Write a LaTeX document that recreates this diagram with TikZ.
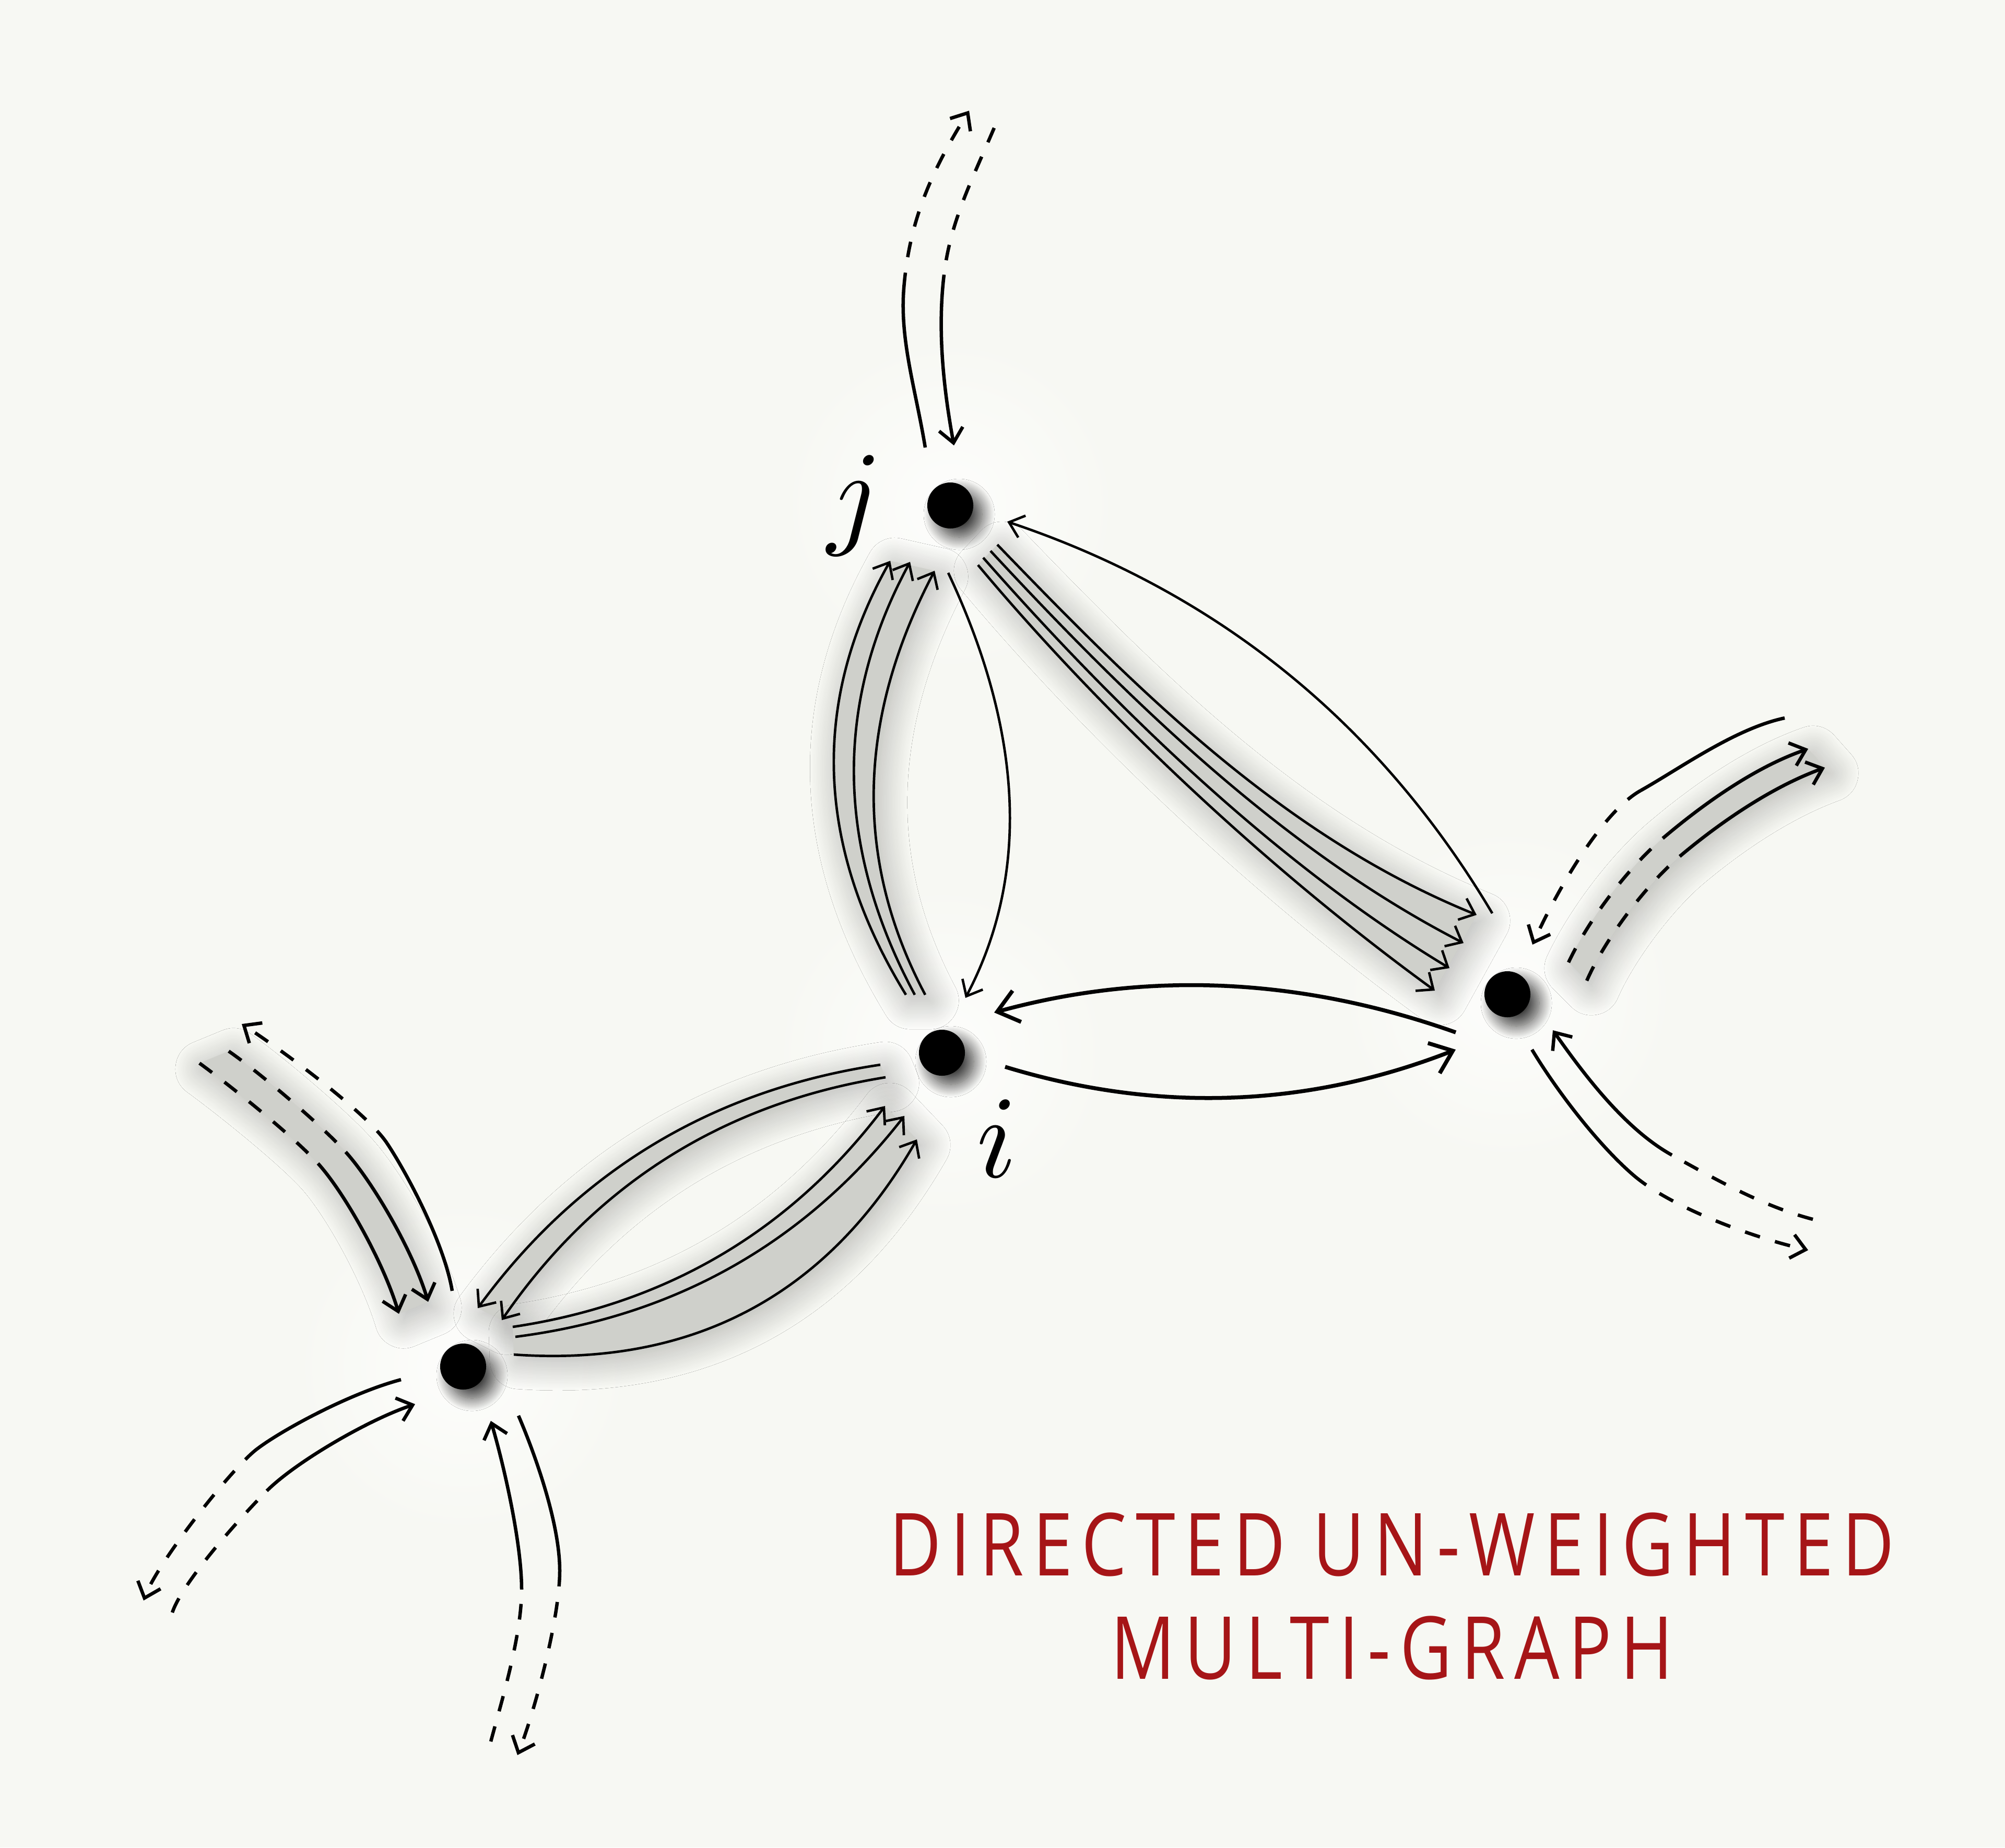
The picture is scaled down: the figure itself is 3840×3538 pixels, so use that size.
\documentclass[tikz,border=0pt]{standalone}
\usepackage{fontspec}
\usepackage{graphicx}
\newfontfamily\titlefont[FakeStretch=0.82,LetterSpace=10.5]{Open Sans}
\usetikzlibrary{arrows.meta,shadows.blur}
\definecolor{bgc}{RGB}{247,248,243}
\definecolor{bandc}{RGB}{207,208,203}
\definecolor{titlered}{RGB}{166,21,23}
\begin{document}
\begin{tikzpicture}[x=0.01cm,y=-0.01cm,
  vertex/.style={circle,fill=black,inner sep=0pt,minimum size=0.88cm,
    blur shadow={shadow xshift=0.17cm,shadow yshift=-0.17cm,shadow blur radius=0.24cm,shadow blur steps=25,shadow opacity=75}},
  halo/.style={inner color=white!75!bgc,outer color=bgc},
  thinarr/.style={line width=0.047cm,-{Straight Barb[length=0.26cm,width=0.44cm,line join=miter,line cap=butt]}},
  thickarr/.style={line width=0.075cm,-{Straight Barb[length=0.39cm,width=0.62cm,line join=miter,line cap=butt]}},
  stubline/.style={line width=0.065cm},
  stubdash/.style={line width=0.065cm,dash pattern=on 0.3cm off 0.3cm},
  stubtip/.style={-{Straight Barb[length=0.27cm,width=0.46cm,line join=miter,line cap=butt]}},
  bandfill/.style={fill=bandc,draw=none,
    blur shadow={shadow xshift=0.09cm,shadow yshift=-0.11cm,shadow blur radius=0.55cm,shadow blur steps=45,shadow opacity=30}},
  lbl/.style={inner sep=0pt},
  titletext/.style={inner sep=0pt,anchor=base,text=titlered,font=\titlefont\fontsize{47.4}{56}\selectfont}
]
\useasboundingbox (0,0) rectangle (3840,3538);
\fill[bgc] (0,0) rectangle (3840,3538);

% node positions and halos
\coordinate (Jp) at (1820,968);
\coordinate (Ip) at (1804,2016);
\coordinate (Kp) at (2887,1904);
\coordinate (Lp) at (887,2617);
\foreach \p in {Jp,Ip,Kp,Lp} \shade[halo] (\p) circle[radius=3.2cm];

% vertices
\node[vertex] (J) at (Jp) {};
\node[vertex] (I) at (Ip) {};
\node[vertex] (K) at (Kp) {};
\node[vertex] (L) at (Lp) {};

% labels
\node[lbl] (jlab) at ([shift={(-183,0)}]J.center) {\scalebox{6.4}{$j$}};
\node[lbl] (ilab) at ([shift={(105,164)}]I.center) {\scalebox{6.4}{$i$}};

% ---- edge end points (relative to the vertices)
\coordinate (ji-s) at ([shift={(-4,129)}]J.center);
\coordinate (ji-e) at ([shift={(45,-105)}]I.center);
\coordinate (ij1-s) at ([shift={(-69,-111)}]I.center);
\coordinate (ij1-e) at ([shift={(-115,106)}]J.center);
\coordinate (ij2-s) at ([shift={(-52,-111)}]I.center);
\coordinate (ij2-e) at ([shift={(-77,108)}]J.center);
\coordinate (ij3-s) at ([shift={(-32,-111)}]I.center);
\coordinate (ij3-e) at ([shift={(-30,125)}]J.center);
\coordinate (jk1-s) at ([shift={(90,75)}]J.center);
\coordinate (jk1-e) at ([shift={(-59,-152)}]K.center);
\coordinate (jk2-s) at ([shift={(77,87)}]J.center);
\coordinate (jk2-e) at ([shift={(-84,-98)}]K.center);
\coordinate (jk3-s) at ([shift={(63,100)}]J.center);
\coordinate (jk3-e) at ([shift={(-111,-50)}]K.center);
\coordinate (jk4-s) at ([shift={(53,114)}]J.center);
\coordinate (jk4-e) at ([shift={(-139,-7)}]K.center);
\coordinate (kj-s) at ([shift={(-29,-155)}]K.center);
\coordinate (kj-e) at ([shift={(109,31)}]J.center);
\coordinate (ki-s) at ([shift={(-99,73)}]K.center);
\coordinate (ki-e) at ([shift={(100,-77)}]I.center);
\coordinate (ik-s) at ([shift={(121,27)}]I.center);
\coordinate (ik-e) at ([shift={(-99,106)}]K.center);
\coordinate (il1-s) at ([shift={(-118,23)}]I.center);
\coordinate (il1-e) at ([shift={(28,-112)}]L.center);
\coordinate (il2-s) at ([shift={(-108,47)}]I.center);
\coordinate (il2-e) at ([shift={(74,-89)}]L.center);
\coordinate (li1-s) at ([shift={(95,-76)}]L.center);
\coordinate (li1-e) at ([shift={(-109,102)}]I.center);
\coordinate (li2-s) at ([shift={(100,-57)}]L.center);
\coordinate (li2-e) at ([shift={(-72,121)}]I.center);
\coordinate (li3-s) at ([shift={(97,-23)}]L.center);
\coordinate (li3-e) at ([shift={(-48,166)}]I.center);

% ---- stub end points
\coordinate (jf-a) at ([shift={(-48,-111)}]J.center);
\coordinate (jf-m) at (1731,552);
\coordinate (jf-t) at (1856,212);
\coordinate (jg-f) at (1904,245);
\coordinate (jg-m) at (1808,526);
\coordinate (jg-t) at ([shift={(7,-115)}]J.center);
\coordinate (ka-f) at (3418,1375);
\coordinate (ka-m) at (3142,1514);
\coordinate (ka-t) at ([shift={(48,-95)}]K.center);
\coordinate (kb-a) at ([shift={(117,-61)}]K.center);
\coordinate (kb-m) at (3185,1605);
\coordinate (kb-t) at (3463,1434);
\coordinate (kc-a) at ([shift={(152,-26)}]K.center);
\coordinate (kc-m) at (3217,1640);
\coordinate (kc-t) at (3495,1470);
\coordinate (kd-f) at (3472,2335);
\coordinate (kd-m) at (3202,2212);
\coordinate (kd-t) at ([shift={(87,69)}]K.center);
\coordinate (ke-a) at ([shift={(47,106)}]K.center);
\coordinate (ke-m) at (3129,2251);
\coordinate (ke-t) at (3463,2394);
\coordinate (lh-a) at ([shift={(-21,-145)}]L.center);
\coordinate (lh-m) at (741,2189);
\coordinate (lh-t) at (463,1961);
\coordinate (li-f) at (438,2013);
\coordinate (li-m) at (662,2206);
\coordinate (li-t) at ([shift={(-67,-124)}]L.center);
\coordinate (lj-f) at (382,2036);
\coordinate (lj-m) at (609,2228);
\coordinate (lj-t) at ([shift={(-123,-101)}]L.center);
\coordinate (lk-a) at ([shift={(-119,25)}]L.center);
\coordinate (lk-m) at (492,2775);
\coordinate (lk-t) at (275,3065);
\coordinate (ll-f) at (330,3088);
\coordinate (ll-m) at (511,2855);
\coordinate (ll-t) at ([shift={(-92,72)}]L.center);
\coordinate (lm-f) at (940,3335);
\coordinate (lm-m) at (999,3044);
\coordinate (lm-t) at ([shift={(53,104)}]L.center);
\coordinate (ln-a) at ([shift={(106,94)}]L.center);
\coordinate (ln-m) at (1072,3008);
\coordinate (ln-t) at (991,3361);

% ---- shaded bands under multi-edges
\fill[bandfill] (jk1-s) .. controls +(270,280) and +(-370,-150) .. (jk1-e)
   -- (jk4-e) .. controls +(-330,-240) and +(230,275) .. (jk4-s) -- cycle;
\fill[bandfill] (ij1-s) .. controls +(-173,-282) and +(-153,272) .. (ij1-e)
   -- (ij3-e) .. controls +(-149,284) and +(-137,-258) .. (ij3-s) -- cycle;
\fill[bandfill] (il1-s) .. controls +(-322,48) and +(192,-262) .. (il1-e)
   -- (il2-e) .. controls +(179,-260) and +(-311,50) .. (il2-s) -- cycle;
\fill[bandfill] (li1-s) .. controls +(296,-44) and +(-180,238) .. (li1-e)
   -- (li3-e) .. controls +(-171,298) and +(343,24) .. (li3-s) -- cycle;
\fill[bandfill] (kb-a) .. controls +(40,-85) and +(-65,55) .. (kb-m)
   .. controls +(65,-55) and +(-110,38) .. (kb-t)
   -- (kc-t) .. controls +(-110,40) and +(65,-55) .. (kc-m)
   .. controls +(-65,55) and +(35,-80) .. (kc-a) -- cycle;
\fill[bandfill] (li-f) .. controls +(55,38) and +(-50,-55) .. (li-m)
   .. controls +(50,55) and +(-30,-100) .. (li-t)
   -- (lj-t) .. controls +(-30,-100) and +(50,55) .. (lj-m)
   .. controls +(-50,-55) and +(55,40) .. (lj-f) -- cycle;

% ---- edges between the four vertices
\draw[thinarr] (ji-s) .. controls +(145,308) and +(123,-234) .. (ji-e);
\draw[thinarr] (ij1-s) .. controls +(-173,-282) and +(-153,272) .. (ij1-e);
\draw[thinarr] (ij2-s) .. controls +(-152,-282) and +(-146,270) .. (ij2-e);
\draw[thinarr] (ij3-s) .. controls +(-137,-258) and +(-149,284) .. (ij3-e);
\draw[thinarr] (jk1-s) .. controls +(270,280) and +(-370,-150) .. (jk1-e);
\draw[thinarr] (jk2-s) .. controls +(260,280) and +(-350,-180) .. (jk2-e);
\draw[thinarr] (jk3-s) .. controls +(245,278) and +(-340,-205) .. (jk3-e);
\draw[thinarr] (jk4-s) .. controls +(230,275) and +(-330,-240) .. (jk4-e);
\draw[thinarr] (kj-s) .. controls +(-217,-365) and +(403,135) .. (kj-e);
\draw[thickarr] (ki-s) .. controls +(-299,-106) and +(291,-80) .. (ki-e);
\draw[thickarr] (ik-s) .. controls +(292,89) and +(-284,111) .. (ik-e);
\draw[thinarr] (il1-s) .. controls +(-322,48) and +(192,-262) .. (il1-e);
\draw[thinarr] (il2-s) .. controls +(-311,50) and +(179,-260) .. (il2-e);
\draw[thinarr] (li1-s) .. controls +(296,-44) and +(-180,238) .. (li1-e);
\draw[thinarr] (li2-s) .. controls +(306,-39) and +(-190,243) .. (li2-e);
\draw[thinarr] (li3-s) .. controls +(343,24) and +(-171,298) .. (li3-e);

% ---- stubs to vertices outside the picture
% at j
\draw[stubline] (jf-a) .. controls +(-18,-110) and +(-8,100) .. (jf-m);
\draw[stubdash,stubtip] (jf-m) .. controls +(10,-125) and +(-75,120) .. (jf-t);
\draw[stubdash] (jg-f) .. controls +(-45,105) and +(12,-100) .. (jg-m);
\draw[stubline,stubtip] (jg-m) .. controls +(-12,100) and +(-22,-120) .. (jg-t);
% at k
\draw[stubline] (ka-f) .. controls +(-95,20) and +(75,-42) .. (ka-m);
\draw[stubdash,stubtip] (ka-m) .. controls +(-75,42) and +(45,-100) .. (ka-t);
\draw[stubdash] (kb-a) .. controls +(40,-85) and +(-65,55) .. (kb-m);
\draw[stubline,stubtip] (kb-m) .. controls +(65,-55) and +(-110,38) .. (kb-t);
\draw[stubdash] (kc-a) .. controls +(35,-80) and +(-65,55) .. (kc-m);
\draw[stubline,stubtip] (kc-m) .. controls +(65,-55) and +(-110,40) .. (kc-t);
\draw[stubdash] (kd-f) .. controls +(-95,-25) and +(90,50) .. (kd-m);
\draw[stubline,stubtip] (kd-m) .. controls +(-90,-50) and +(60,85) .. (kd-t);
\draw[stubline] (ke-a) .. controls +(45,75) and +(-70,-60) .. (ke-m);
\draw[stubdash,stubtip] (ke-m) .. controls +(70,60) and +(-110,-25) .. (ke-t);
% at the lower left vertex
\draw[stubline] (lh-a) .. controls +(-15,-90) and +(40,60) .. (lh-m);
\draw[stubdash,stubtip] (lh-m) .. controls +(-40,-60) and +(70,45) .. (lh-t);
\draw[stubdash] (li-f) .. controls +(55,38) and +(-50,-55) .. (li-m);
\draw[stubline,stubtip] (li-m) .. controls +(50,55) and +(-30,-100) .. (li-t);
\draw[stubdash] (lj-f) .. controls +(55,40) and +(-50,-55) .. (lj-m);
\draw[stubline,stubtip] (lj-m) .. controls +(50,55) and +(-30,-100) .. (lj-t);
\draw[stubline] (lk-a) .. controls +(-95,25) and +(50,-38) .. (lk-m);
\draw[stubdash,stubtip] (lk-m) .. controls +(-50,38) and +(25,-70) .. (lk-t);
\draw[stubdash] (ll-f) .. controls +(20,-60) and +(-45,45) .. (ll-m);
\draw[stubline,stubtip] (ll-m) .. controls +(55,-55) and +(-90,30) .. (ll-t);
\draw[stubdash] (lm-f) .. controls +(20,-75) and +(0,90) .. (lm-m);
\draw[stubline,stubtip] (lm-m) .. controls +(0,-90) and +(25,85) .. (lm-t);
\draw[stubline] (ln-a) .. controls +(28,65) and +(0,-95) .. (ln-m);
\draw[stubdash,stubtip] (ln-m) .. controls +(0,95) and +(30,-75) .. (ln-t);

% ---- title
\node[titletext] (title1) at (2666,3017) {DIRECTED UN-WEIGHTED};
\node[titletext] (title2) at (2666,3215) {MULTI-GRAPH};
\end{tikzpicture}
\end{document}
